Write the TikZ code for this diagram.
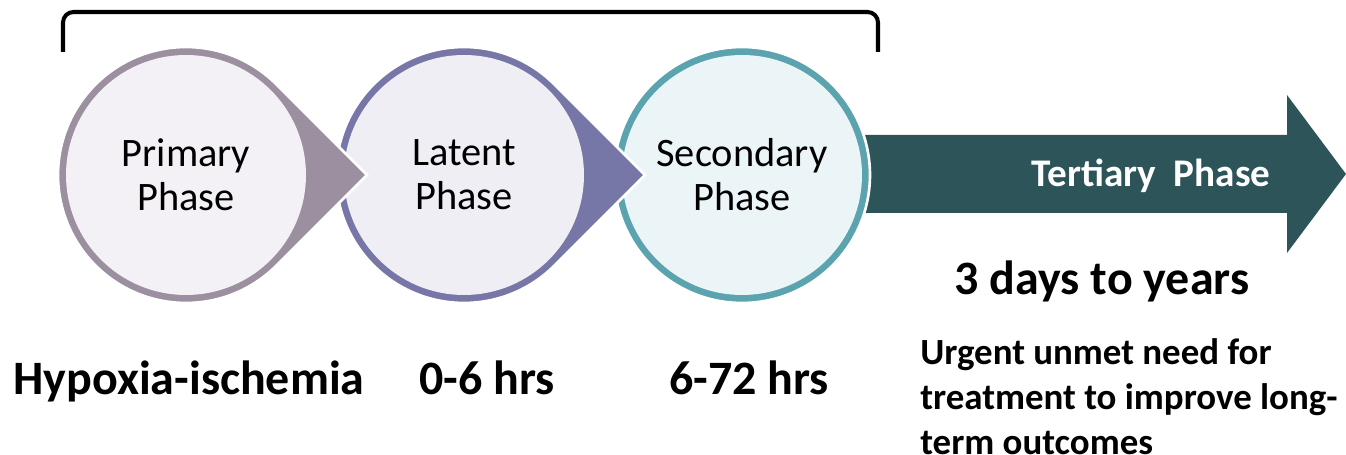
\documentclass[tikz,border=0pt]{standalone}
\usepackage{fontspec}
\setmainfont{Carlito}
\usetikzlibrary{positioning, calc}
\definecolor{primaryring}{RGB}{156,143,160}
\definecolor{primaryfill}{RGB}{243,241,245}
\definecolor{latentring}{RGB}{119,119,167}
\definecolor{latentfill}{RGB}{239,238,245}
\definecolor{secondaryring}{RGB}{91,163,174}
\definecolor{secondaryfill}{RGB}{235,244,246}
\definecolor{tertiaryteal}{RGB}{44,84,89}

\begin{document}
\begin{tikzpicture}[
    x=0.02cm, y=0.02cm,
    drop/.style={fill=#1, draw=white, line width=1.5pt},
    phase/.style={circle, fill=#1, minimum size=4.8cm, inner sep=0pt, align=center, font=\fontsize{23}{25}\selectfont},
    timing/.style={anchor=base, font=\fontsize{27.3}{30}\selectfont\bfseries},
    bracket/.style={line width=2.3pt, rounded corners=6pt}
]
\useasboundingbox (0,0) rectangle (1346,455);

% Centres of the three phases
\coordinate (primaryc) at (186,280);
\coordinate (latentc) at (464,280);
\coordinate (secondaryc) at (742,280);

% Tertiary arrow (behind the circles)
\fill[tertiaryteal] (secondaryc |- 0,320) -- (1287,320) -- (1287,360) -- (1346,281) -- (1287,202) -- (1287,242) -- (secondaryc |- 0,242) -- cycle;
\node[anchor=base, text=white, font=\fontsize{22.3}{25}\selectfont\bfseries] (tertiary) at (1151,268) {Tertiary\ \ Phase};

% Phases, back to front
\filldraw[drop=secondaryring] (secondaryc) circle[radius=2.56cm];
\node[phase=secondaryfill] (secondary) at (secondaryc) {Secondary\\Phase};

\filldraw[drop=latentring] ($(latentc)+(3.62cm,0)$) -- ($(latentc)+(45:2.56cm)$) arc[start angle=45, end angle=315, radius=2.56cm] -- cycle;
\node[phase=latentfill] (latent) at (latentc) {Latent\\Phase};

\filldraw[drop=primaryring] ($(primaryc)+(3.62cm,0)$) -- ($(primaryc)+(45:2.56cm)$) arc[start angle=45, end angle=315, radius=2.56cm] -- cycle;
\node[phase=primaryfill] (primary) at (primaryc) {Primary\\Phase};

% Bracket over the first three phases
\coordinate (bracketl) at (63,403);
\coordinate (bracketr) at (878,403);
\draw[bracket] (bracketl) -- ++(0,40) -| (bracketr);

% Timings
\node[timing] (hypoxia) at (189,60) {Hypoxia-ischemia};
\node[timing] (latenttime) at (487,60) {0-6 hrs};
\node[timing] (secondarytime) at (749,60) {6-72 hrs};
\node[timing] (tertiarytime) at (1102,160) {3 days to years};
\node[anchor=north west, inner sep=0pt, align=left, font=\fontsize{21}{25.8}\selectfont\bfseries] (unmet) at (920,117) {Urgent unmet need for\\treatment to improve long-\\term outcomes};

\end{tikzpicture}
\end{document}
